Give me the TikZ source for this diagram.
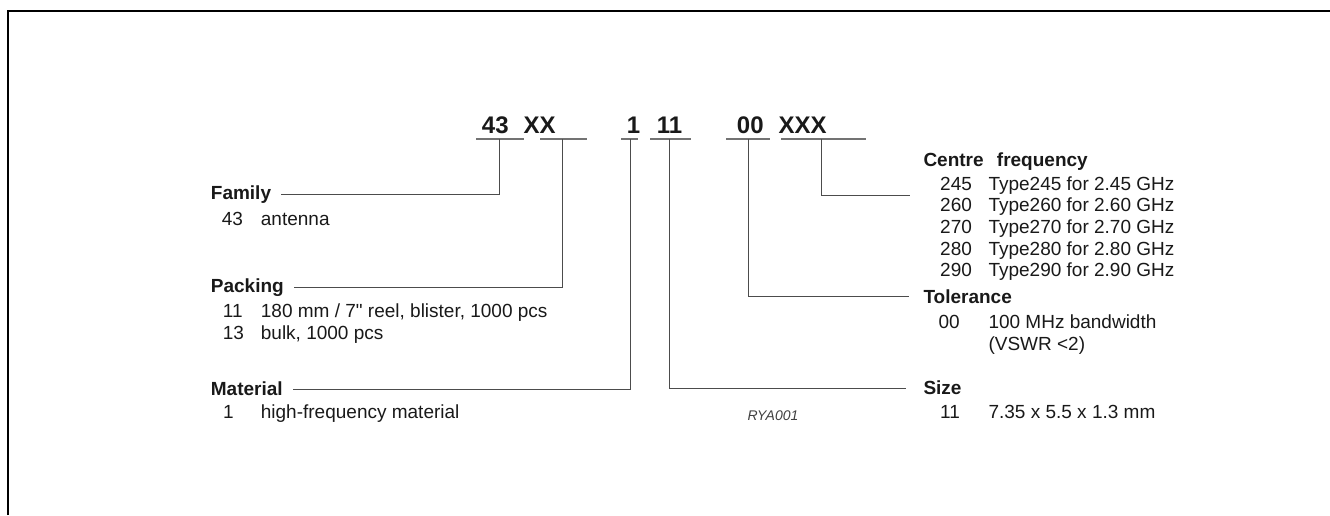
\documentclass[tikz,border=0pt]{standalone}
\usepackage{fontspec}
\setmainfont{Liberation Sans}[Ligatures=TeXOff]
\usepackage{tikz}

\tikzset{
  code/.style={anchor=base west, inner sep=0, text=black!90, font=\fontsize{24}{28}\selectfont\bfseries},
  head/.style={anchor=base west, inner sep=0, text=black!90, font=\fontsize{19}{22}\selectfont\bfseries},
  item/.style={anchor=base west, inner sep=0, text=black!90, font=\fontsize{19}{22}\selectfont},
  lead/.style={black!70, line width=1pt},
  uline/.style={black!55, line width=1.4pt}
}

\begin{document}
\begin{tikzpicture}[x=1pt,y=-1pt]
\useasboundingbox (0,0) rectangle (1330,515);
\draw[line width=2pt] (7.5,515) -- (7.5,11) -- (1330,11);

% type number
\node[code] (c43) at (481.7,133.3) {43};
\node[code] (cXX) at (523.3,133.3) {XX};
\node[code] (c1) at (626.7,133.3) {1};
\node[code] (c11) at (656.7,133.3) {11};
\node[code] (c00) at (736.7,133.3) {00};
\node[code] (cXXX) at (778.3,133.3) {XXX};

\draw[uline] (476,139) -- (524,139); \coordinate (u43) at (499.5,139);
\draw[uline] (540,139) -- (587,139); \coordinate (uXX) at (562.5,139);
\draw[uline] (621,139) -- (638,139); \coordinate (u1) at (630,139);
\draw[uline] (650,139) -- (691,139); \coordinate (u11) at (669.5,139);
\draw[uline] (726,139) -- (770,139); \coordinate (u00) at (748.3,139);
\draw[uline] (781,139) -- (866,139); \coordinate (uXXX) at (821.7,139);

% left side
\node[head] (family) at (210.7,199.3) {Family};
\node[item] (fam43) at (221.7,225) {43};
\node[item] (famtxt) at (260.7,225) {antenna};

\node[head] (packing) at (210.7,292.7) {Packing};
\node[item] (pk11) at (222.7,317.7) {11};
\node[item] (pk11txt) at (260.7,317.7) {180 mm / 7" reel, blister, 1000 pcs};
\node[item] (pk13) at (222.7,339.3) {13};
\node[item] (pk13txt) at (260.7,339.3) {bulk, 1000 pcs};

\node[head] (material) at (210.7,395) {Material};
\node[item] (mat1) at (223,418.3) {1};
\node[item] (mattxt) at (260.7,418.3) {high-frequency material};

% right side
\node[head] (centre) at (923.3,166.7) {Centre\hspace{0.7em}frequency};
\node[item] (f245) at (940,190) {245};   \node[item] (t245) at (988.3,190) {Type245 for 2.45 GHz};
\node[item] (f260) at (940,211.7) {260}; \node[item] (t260) at (988.3,211.7) {Type260 for 2.60 GHz};
\node[item] (f270) at (940,233.3) {270}; \node[item] (t270) at (988.3,233.3) {Type270 for 2.70 GHz};
\node[item] (f280) at (940,255) {280};   \node[item] (t280) at (988.3,255) {Type280 for 2.80 GHz};
\node[item] (f290) at (940,276) {290};   \node[item] (t290) at (988.3,276) {Type290 for 2.90 GHz};
\coordinate (cfend) at (910,195);

\node[head] (tolerance) at (923.3,303.3) {Tolerance};
\node[item] (tol00) at (938.3,328.3) {00};
\node[item] (toltxt) at (988.3,328.3) {100 MHz bandwidth};
\node[item] (toltxtb) at (988.3,350) {(VSWR <2)};

\node[head] (size) at (923.3,394) {Size};
\node[item] (sz11) at (940,418.3) {11};
\node[item] (sztxt) at (988.3,418.3) {7.35 x 5.5 x 1.3 mm};

\node[anchor=base west, inner sep=0, text=black!75, font=\fontsize{14}{16}\selectfont\itshape] (ref) at (747.3,420) {RYA001};

% leads
\draw[lead] (u43) |- ([xshift=10pt,yshift=5.3pt]family.base east);
\draw[lead] (uXX) |- ([xshift=10pt,yshift=5.4pt]packing.base east);
\draw[lead] (u1) |- ([xshift=10pt,yshift=5.6pt]material.base east);
\draw[lead] (uXXX) |- (cfend);
\draw[lead] (u00) |- ([xshift=-14pt,yshift=6.6pt]tolerance.base west);
\draw[lead] (u11) |- ([xshift=-17pt,yshift=5.7pt]size.base west);

\end{tikzpicture}
\end{document}
